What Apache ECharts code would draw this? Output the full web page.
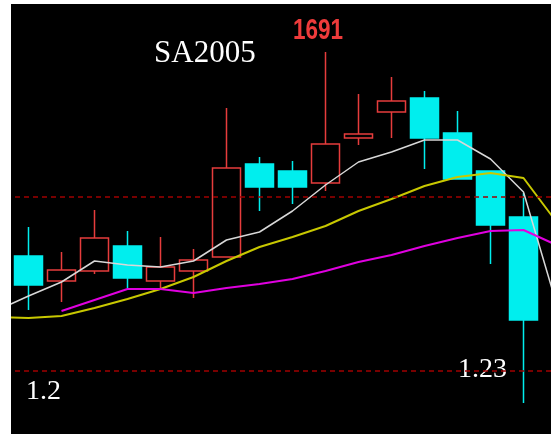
<!DOCTYPE html>
<html>
<head>
<meta charset="utf-8">
<script src="https://cdn.jsdelivr.net/npm/echarts@6/dist/echarts.min.js"></script>
<style>
    html, body { margin: 0; padding: 0; background: #fff; }
    #box { position: absolute; left: 11px; top: 4px; width: 540px; height: 430px; background: #000; overflow: hidden; }
    #kline { position: absolute; left: -32px; top: 0; width: 594px; height: 430px; }
</style>
</head>
<body>
<div id="box"><div id="kline"></div></div>
<script>
// 日期(首尾两根在画面外)
var days = ['d0', 'd1', 'd2', 'd3', 'd4', 'd5', 'd6', 'd7', 'd8', 'd9', 'd10', 'd11', 'd12', 'd13', 'd14', 'd15', 'd16', 'd17'];
// K线 [开, 收, 低, 高]
var candles = [
    '-',
    [1589, 1574.5, 1562, 1603.5],
    [1576.5, 1582, 1566, 1591],
    [1581.5, 1598, 1580, 1612],
    [1594, 1578, 1573, 1601.5],
    [1576.5, 1583.5, 1573, 1598.5],
    [1581.5, 1587, 1568, 1592.5],
    [1588.5, 1633, 1588.5, 1663],
    [1635, 1623.5, 1611.5, 1638.5],
    [1631.5, 1623.5, 1615, 1636.5],
    [1625.5, 1645, 1621.5, 1691],
    [1648, 1650, 1644.5, 1670],
    [1661, 1666.5, 1648, 1678.5],
    [1668, 1648, 1632.5, 1671.5],
    [1650.5, 1627.5, 1627.5, 1661.5],
    [1631.5, 1604.5, 1585, 1631.5],
    [1608.5, 1557, 1515.5, 1620.5],
    '-'
];
// 均线
var ma5 = [1561.5, 1569, 1576, 1586.5, 1584.5, 1583.5, 1586.5, 1597, 1601, 1611.5, 1624.5, 1636, 1641, 1647, 1647, 1637.5, 1621, 1565];
var ma10 = [1558.5, 1558, 1559, 1563, 1567.5, 1572.5, 1578.5, 1586.5, 1593.5, 1598.5, 1604, 1611.5, 1617.5, 1624, 1628.5, 1630.5, 1628, 1606];
var ma20 = ['-', '-', 1561.5, 1567, 1572.5, 1572.5, 1570.5, 1573, 1575, 1577.5, 1581.5, 1586, 1589.5, 1594, 1598, 1601.5, 1602, 1594.5];
// 虚线价位
var levels = [1618.5, 1531.5];

var myChart = echarts.init(document.getElementById('kline'));
var option = {
    backgroundColor: '#000',
    animation: false,
    grid: {
        left: 0,
        right: 0,
        top: 0,
        bottom: 0
    },
    xAxis: {
        type: 'category',
        data: days,
        show: false,
        boundaryGap: true
    },
    yAxis: {
        type: 'value',
        min: 1500,
        max: 1715,
        show: false,
        splitLine: { show: false }
    },
    graphic: [
        {
            type: 'text', x: 175, y: 34,
            style: { text: 'SA2005', fill: '#fff', font: '31px "Liberation Serif"' }
        },
        {
            type: 'text', x: 339, y: 27, scaleX: 0.75,
            style: { text: '1691', fill: '#ee3b3b', font: 'bold 30px "Liberation Sans"', align: 'center', verticalAlign: 'middle' }
        },
        {
            type: 'text', x: 47, y: 387.5,
            style: { text: '1.2', fill: '#fff', font: '28px "Liberation Serif"', verticalAlign: 'middle' }
        },
        {
            type: 'text', x: 479, y: 365.5,
            style: { text: '1.23', fill: '#fff', font: '28px "Liberation Serif"', verticalAlign: 'middle' }
        }
    ],
    series: [
        {
            type: 'candlestick',
            data: candles,
            barWidth: 28,
            itemStyle: {
                color: '#000',
                color0: '#00eeee',
                borderColor: '#e63c3c',
                borderColor0: '#00eeee',
                borderWidth: 1.5
            },
            markLine: {
                silent: true,
                symbol: ['none', 'none'],
                label: { show: false },
                lineStyle: { color: '#a00000', type: [5, 4], width: 1.5 },
                data: levels.map(function (v) { return { yAxis: v }; })
            }
        },
        {
            type: 'line', data: ma5, symbol: 'none',
            lineStyle: { color: '#d8d8d8', width: 1.5 }
        },
        {
            type: 'line', data: ma10, symbol: 'none',
            lineStyle: { color: '#c8c800', width: 2 }
        },
        {
            type: 'line', data: ma20, symbol: 'none',
            lineStyle: { color: '#e000e0', width: 2 }
        }
    ]
};
myChart.setOption(option);
</script>
</body>
</html>
